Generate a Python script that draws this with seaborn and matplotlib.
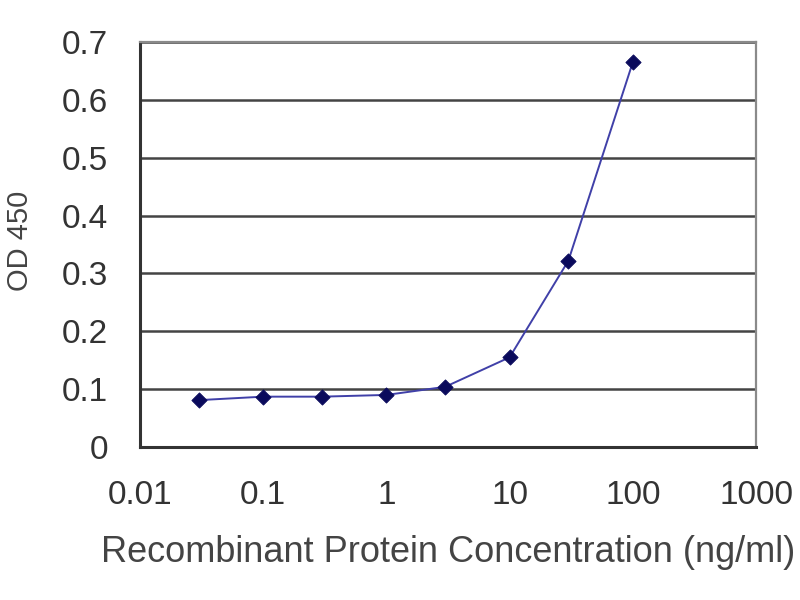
import numpy as np
import pandas as pd
import matplotlib
matplotlib.use("Agg")
import matplotlib.pyplot as plt
import seaborn as sns

# concentration (ng/ml) and OD 450 readings
conc = [0.03, 0.1, 0.3, 1, 3, 10, 30, 100]
od450 = [0.081, 0.087, 0.087, 0.090, 0.104, 0.155, 0.322, 0.665]

x_ticks = [0.01, 0.1, 1, 10, 100, 1000]
x_tick_labels = ["0.01", "0.1", "1", "10", "100", "1000"]
y_ticks = [0, 0.1, 0.2, 0.3, 0.4, 0.5, 0.6, 0.7]
y_tick_labels = ["0", "0.1", "0.2", "0.3", "0.4", "0.5", "0.6", "0.7"]

df = pd.DataFrame({"conc": conc, "od": od450})

sns.set_style("white")
plt.rcParams["font.family"] = ["Liberation Sans", "DejaVu Sans"]

fig = plt.figure(figsize=(8, 6), dpi=100)
ax = fig.add_axes([0.175, 0.255, 0.77, 0.675])

ax.set_xscale("log")
sns.lineplot(data=df, x="conc", y="od", ax=ax, color="#4040a8", linewidth=1.4)
sns.scatterplot(data=df, x="conc", y="od", ax=ax, marker="D", s=60,
                color="#0a0a5c", edgecolor="#0a0a5c", zorder=5)

ax.set_xlim(0.01, 1000)
ax.set_ylim(0, 0.7)
ax.set_xticks(x_ticks)
ax.set_xticklabels(x_tick_labels)
ax.minorticks_off()
ax.set_yticks(y_ticks)
ax.set_yticklabels(y_tick_labels)

ax.grid(axis="y", color="#444444", linewidth=1.8)
ax.set_axisbelow(True)

for side in ["left", "bottom"]:
    ax.spines[side].set_color("#333333")
    ax.spines[side].set_linewidth(2.2)
for side in ["top", "right"]:
    ax.spines[side].set_color("#8a8a8a")
    ax.spines[side].set_linewidth(1.6)

ax.tick_params(axis="x", direction="in", length=3, labelsize=24, colors="#333333",
               pad=24, labelcolor="#333333")
ax.tick_params(axis="y", direction="out", length=3, labelsize=24, colors="#333333",
               pad=20, labelcolor="#333333")

ax.set_xlabel("Recombinant Protein Concentration (ng/ml)", fontsize=26,
              color="#444444", labelpad=17)
ax.set_ylabel("OD 450", fontsize=21, color="#444444")
ax.yaxis.set_label_coords(-0.172, 0.51)

fig.savefig("out.png", dpi=100, facecolor="white")
